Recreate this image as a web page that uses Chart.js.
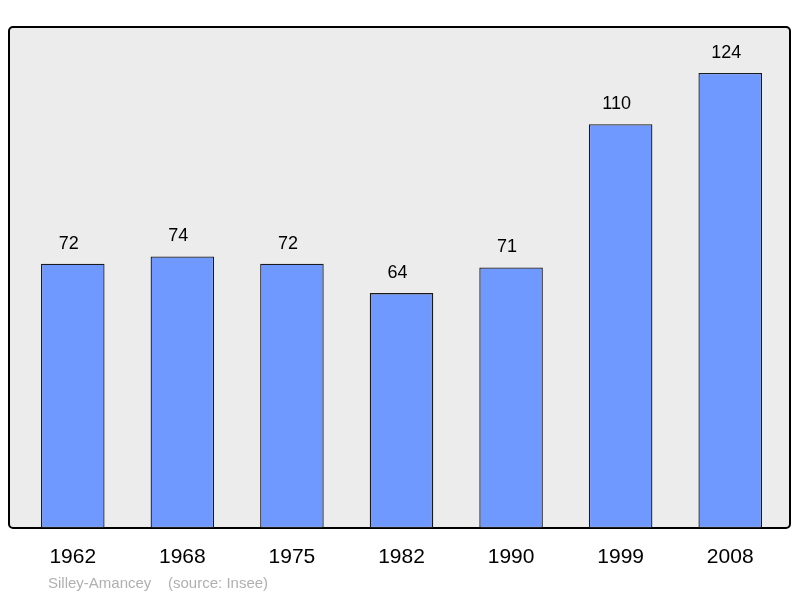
<!DOCTYPE html>
<html>
<head>
<meta charset="utf-8">
<script src="https://cdn.jsdelivr.net/npm/chart.js@4"></script>
<style>
  html, body { margin: 0; padding: 0; background: #fff; }
  #wrap { width: 800px; height: 598px; }
</style>
</head>
<body>
<div id="wrap"><canvas id="chart"></canvas></div>
<script>
// population by census year
const years = ['1962', '1968', '1975', '1982', '1990', '1999', '2008'];
const population = [72, 74, 72, 64, 71, 110, 124];
const footerText = 'Silley-Amancey    (source: Insee)';

// frame, value labels, year labels and footer
const decorPlugin = {
  id: 'decor',
  beforeDatasetsDraw(chart) {
    const c = chart.ctx;
    c.save();
    c.beginPath();
    c.roundRect(9, 27, 781, 501, 4);
    c.fillStyle = '#ececec';
    c.fill();
    c.lineWidth = 2;
    c.strokeStyle = '#000';
    c.stroke();
    c.restore();
  },
  afterDatasetsDraw(chart) {
    const c = chart.ctx;
    const meta = chart.getDatasetMeta(0);
    c.save();
    c.fillStyle = '#000';
    c.textAlign = 'center';
    c.font = '18px "Liberation Sans", Arial, sans-serif';
    c.textBaseline = 'bottom';
    meta.data.forEach((bar, i) => {
      c.fillText(String(population[i]), bar.x - 4, bar.y - 11);
    });
    c.font = '21px "Liberation Sans", Arial, sans-serif';
    c.textBaseline = 'middle';
    meta.data.forEach((bar, i) => {
      c.fillText(years[i], bar.x, 557);
    });
    c.font = '15px "Liberation Sans", Arial, sans-serif';
    c.fillStyle = '#b0b0b0';
    c.textAlign = 'left';
    c.fillText(footerText, 48, 584);
    c.restore();
  }
};

new Chart(document.getElementById('chart'), {
  type: 'bar',
  data: {
    labels: years,
    datasets: [{
      data: population,
      backgroundColor: '#7099ff',
      borderColor: '#1a1a1a',
      borderWidth: 1.3,
      borderSkipped: false,
      categoryPercentage: 1,
      barPercentage: 0.58
    }]
  },
  options: {
    responsive: true,
    maintainAspectRatio: false,
    animation: false,
    layout: { padding: { left: 18, right: 15, top: 27, bottom: 70 } },
    scales: {
      x: { display: false },
      y: { display: false, min: 0, max: 136.5 }
    },
    plugins: {
      legend: { display: false },
      tooltip: { enabled: false }
    }
  },
  plugins: [decorPlugin]
});
</script>
</body>
</html>
